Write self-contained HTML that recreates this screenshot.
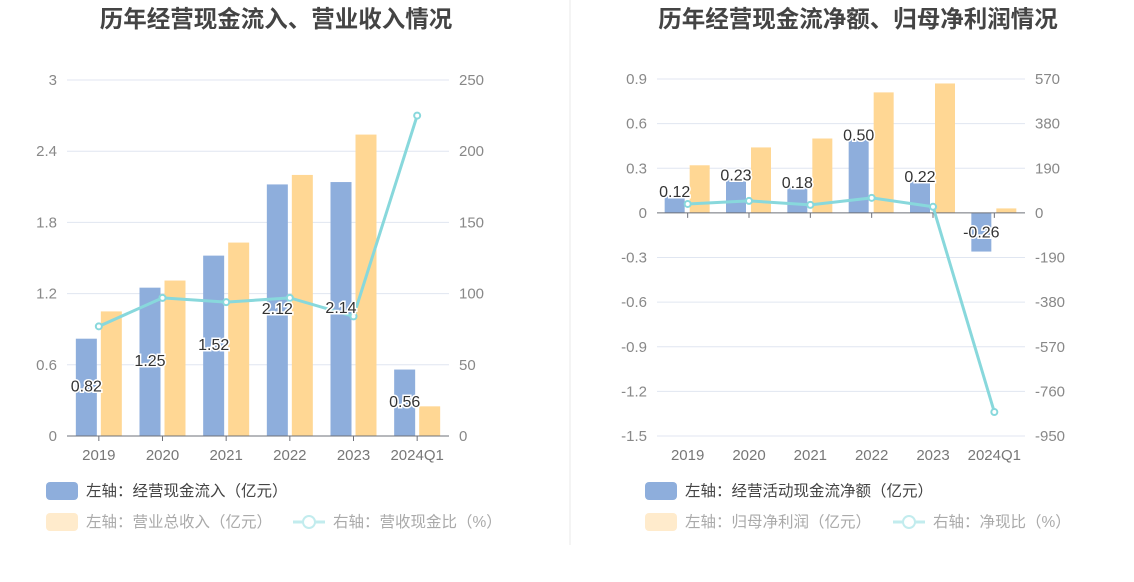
<!DOCTYPE html>
<html><head><meta charset="utf-8"><style>
body{margin:0;background:#fff;font-family:"Liberation Sans","Noto Sans CJK SC",sans-serif;}
svg{display:block}
</style></head><body>
<svg id="c" width="1134" height="582" xmlns="http://www.w3.org/2000/svg" font-family="Liberation Sans, Noto Sans CJK SC, sans-serif"></svg>
<script>
const cats = ["2019","2020","2021","2022","2023","2024Q1"];
const inflow = [0.82,1.25,1.52,2.12,2.14,0.56];
const revenue = [1.05,1.31,1.63,2.20,2.54,0.25];
const cashRatio = [77,97,94,97,84,225];
const leftTicksA = [0,0.6,1.2,1.8,2.4,3];
const rightTicksA = [0,50,100,150,200,250];
const netCash = [0.12,0.23,0.18,0.50,0.22,-0.26];
const netProfit = [0.32,0.44,0.50,0.81,0.87,0.03];
const netRatio = [38,51,34,64,26,-848];
const leftTicksB = [-1.5,-1.2,-0.9,-0.6,-0.3,0,0.3,0.6,0.9];
const rightTicksB = ["-950","-760","-570","-380","-190","0","190","380","570"];

const svg=document.getElementById('c');
const NS="http://www.w3.org/2000/svg";
function mk(tag,attrs,parent){const e=document.createElementNS(NS,tag);for(const k in attrs)e.setAttribute(k,attrs[k]);(parent||svg).appendChild(e);return e;}
function txt(s,attrs,parent){const e=mk('text',attrs,parent);e.textContent=s;return e;}

const dv=mk('line',{x1:570,y1:0,x2:570,y2:545,stroke:'#e8e8e8'});



function chart(o){
  const g=mk('g',{});
  
  
  const t=txt(o.title,{x:o.tx,y:27,'text-anchor':'middle','font-size':23.5,'font-weight':'bold',fill:'#444'},g);
  
  
  const yL=v=>o.y0+(v-o.lmin)/(o.lmax-o.lmin)*(o.y1-o.y0);
  const yR=v=>o.y0+(v-o.rmin)/(o.rmax-o.rmin)*(o.y1-o.y0);
  const bw=(o.x1-o.x0)/cats.length;
  const cx=i=>o.x0+bw*(i+0.5);
  const yZero=yL(0);
  o.lticks.forEach((v,i)=>{
    const y=yL(v);
    if(v!==0){const gl=mk('line',{x1:o.x0,x2:o.x1,y1:y,y2:y,stroke:'#e0e6f1'},g);
      
      }
    const lt=txt(String(v),{x:o.x0-10,y:y+5,'text-anchor':'end','font-size':15,fill:'#888'},g);
    
    
    const rt=txt(o.rlabels[i],{x:o.x1+10,y:y+5,'font-size':15,fill:'#888'},g);
    
    
  });
  cats.forEach((c,i)=>{
    const b1=o.blue[i],b2=o.yellow[i];
    const r1=mk('rect',{x:cx(i)-o.bo,y:Math.min(yL(b1),yZero),width:o.bwid,height:Math.abs(yL(b1)-yZero),fill:'#8eaedc'},g);
    
    
    const r2=mk('rect',{x:cx(i)+o.yo,y:Math.min(yL(b2),yZero),width:o.bwid,height:Math.abs(yL(b2)-yZero),fill:'#ffd794'},g);
    
    
    const tk=mk('line',{x1:cx(i),x2:cx(i),y1:yZero,y2:yZero+5,stroke:'#6e7079'},g);
    
    
    const xl=txt(c,{x:cx(i),y:o.y0+24,'text-anchor':'middle','font-size':15,fill:'#777'},g);
    
    
  });
  const ax=mk('line',{x1:o.x0,x2:o.x1,y1:yZero,y2:yZero,stroke:'#6e7079'},g);
  
  
  const pts=o.line.map((v,i)=>cx(i)+','+yR(v)).join(' ');
  const pl=mk('polyline',{points:pts,fill:'none',stroke:'#88d8dc','stroke-width':3},g);
  
  
  o.line.forEach((v,i)=>{
    const p=mk('circle',{cx:cx(i),cy:yR(v),r:3,fill:'#fff',stroke:'#88d8dc','stroke-width':2},g);
    
    
  });
  o.blue.forEach((v,i)=>{
    const ly=o.labelY(v,yL,yZero);
    const l=txt(v.toFixed(2),{x:cx(i)-o.bo+o.bwid/2,y:ly,'text-anchor':'middle','font-size':16,fill:'#333',stroke:'#fff','stroke-width':3,'paint-order':'stroke'},g);
    
    
  });
  const lx=o.lx;
  const s1=mk('rect',{x:lx,y:482,width:32,height:18,rx:4,fill:'#8eaedc'},g);
  
  
  const t1=txt(o.leg1,{x:lx+40,y:496,'font-size':15.5,fill:'#444'},g);
  
  
  const s2=mk('rect',{x:lx,y:513,width:32,height:18,rx:4,fill:'#ffebcc'},g);
  
  
  const t2=txt(o.leg2,{x:lx+40,y:527,'font-size':15.5,fill:'#aaa'},g);
  
  
  const li=mk('line',{x1:o.l3x,x2:o.l3x+32,y1:522,y2:522,stroke:'#c2ecee','stroke-width':3},g);
  
  
  const lc=mk('circle',{cx:o.l3x+16,cy:522,r:6,fill:'#fff',stroke:'#c2ecee','stroke-width':2},g);
  
  
  const t3=txt(o.leg3,{x:o.l3x+40,y:527,'font-size':15.5,fill:'#aaa'},g);
  
  
}

chart({name:'chart-cash-inflow-revenue',title:'历年经营现金流入、营业收入情况',tx:276,
  x0:67,x1:449,y0:436,y1:80,lmin:0,lmax:3,rmin:0,rmax:250,
  lticks:leftTicksA,rlabels:rightTicksA.map(String),
  blue:inflow,yellow:revenue,line:cashRatio,bo:23,yo:2,bwid:21,
  labelY:(v,yL,z)=>(yL(v)+z)/2+4,
  lx:46,leg1:'左轴：经营现金流入（亿元）',leg2:'左轴：营业总收入（亿元）',l3x:293,leg3:'右轴：营收现金比（%）'});

chart({name:'chart-net-cash-profit',title:'历年经营现金流净额、归母净利润情况',tx:858,
  x0:657,x1:1025,y0:436,y1:79,lmin:-1.5,lmax:0.9,rmin:-950,rmax:570,
  lticks:leftTicksB,rlabels:rightTicksB,
  blue:netCash,yellow:netProfit,line:netRatio,bo:23,yo:2,bwid:20,
  labelY:(v,yL,z)=>v>=0?yL(v)+2:yL(v)-14,
  lx:645,leg1:'左轴：经营活动现金流净额（亿元）',leg2:'左轴：归母净利润（亿元）',l3x:893,leg3:'右轴：净现比（%）'});
</script>
</body></html>
